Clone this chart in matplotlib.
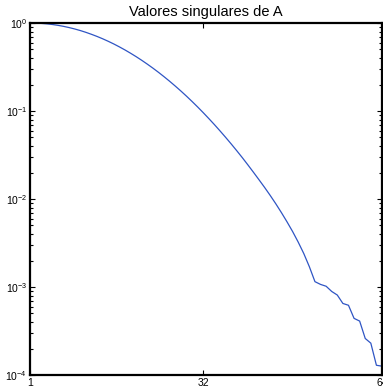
import numpy as np
import matplotlib
matplotlib.use('Agg')
import matplotlib.pyplot as plt
from matplotlib.ticker import LogLocator, NullFormatter

plt.rcParams['font.family'] = ['Liberation Sans', 'DejaVu Sans']
plt.rcParams['mathtext.fontset'] = 'custom'
plt.rcParams['mathtext.rm'] = 'Liberation Sans'
plt.rcParams['mathtext.it'] = 'Liberation Sans:italic'

# indices 1..64 and singular values
idx = np.arange(1, 65)
sing_vals = [1.000, 0.9976, 0.9903, 0.9783, 0.9617, 0.9408, 0.9159, 0.8872,
             0.8554, 0.8209, 0.7834, 0.7438, 0.7035, 0.6620, 0.6197, 0.5775,
             0.5353, 0.4940, 0.4534, 0.4144, 0.3767, 0.3407, 0.3069, 0.2750,
             0.2451, 0.2175, 0.1920, 0.1688, 0.1476, 0.1284, 0.1112, 0.0958,
             0.0821, 0.0701, 0.0595, 0.0503, 0.0423, 0.0354, 0.0295, 0.0244,
             0.0201, 0.0165, 0.0135, 0.01096, 0.00881, 0.00700, 0.00550, 0.00427,
             0.00324, 0.00240, 0.00170, 0.00115, 0.00107, 0.00102, 0.00089, 0.00081,
             0.00065, 0.00062, 0.00044, 0.00041, 0.00026, 0.00023, 0.000129, 0.000126]
xticks = [1, 32, 64]

fig = plt.figure(figsize=(3.83, 3.91), dpi=100)
ax = fig.add_axes([30/383, 16/391, 352/383, 352/391])
ax.semilogy(idx, sing_vals, color='#2f55c4', lw=0.9)

ax.set_xlim(1, 64)
ax.set_ylim(1e-4, 1)
ax.set_xticks(xticks)
ax.set_xticklabels([str(t) for t in xticks])
ax.yaxis.set_major_locator(LogLocator(base=10, numticks=10))
ax.yaxis.set_minor_locator(LogLocator(base=10, subs=np.arange(2, 10), numticks=10))
ax.yaxis.set_minor_formatter(NullFormatter())

for s in ax.spines.values():
    s.set_linewidth(1.6)
ax.tick_params(which='both', direction='in', top=True, right=True,
               labelsize=7.5, width=0.8, pad=2)
ax.tick_params(which='major', length=3.5)
ax.tick_params(which='minor', length=2)

ax.set_title('Valores singulares de A', fontsize=10.5, pad=5)

fig.savefig('out.png', dpi=100)
